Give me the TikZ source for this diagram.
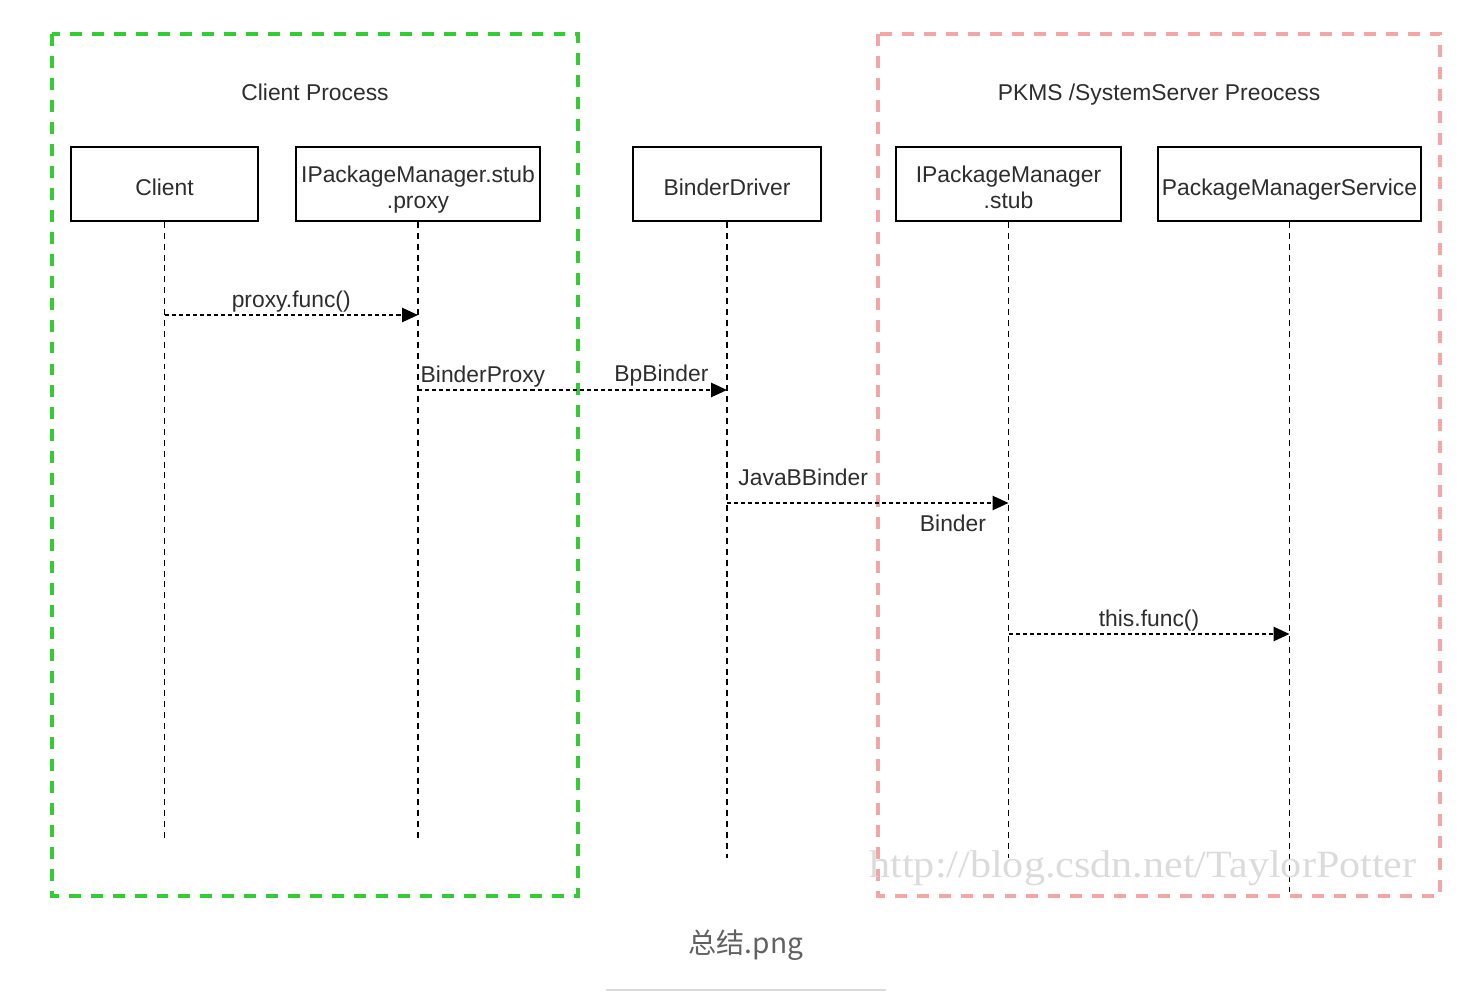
\documentclass[tikz,border=0pt]{standalone}
\usepackage{fontspec}
\setmainfont{Liberation Sans}
\newfontfamily\cjkfont{Noto Sans CJK SC}
\newfontfamily\markfont{Liberation Serif}
\usetikzlibrary{arrows.meta,shadows}

\definecolor{procgreen}{RGB}{51,204,51}
\definecolor{procpink}{RGB}{244,166,166}
\definecolor{labelgray}{RGB}{45,45,45}

\tikzset{
    actor/.style={draw=black, line width=1pt, fill=white, minimum height=14.8mm,
        inner sep=1pt, align=center, text=labelgray,
        font=\fontsize{13}{14.7}\selectfont, text height=12.8pt, text depth=0pt,
        drop shadow={shadow xshift=0.7pt, shadow yshift=-0.7pt, opacity=0.25}},
    twolines/.style={text height=30.3pt, text depth=2.7pt},
    lifeline/.style={line width=0.8pt, dash pattern=on 3.4pt off 2.8pt},
    msg/.style={line width=1.1pt, dash pattern=on 2.3pt off 1.7pt,
        -{Triangle[length=9pt,width=8pt]}},
    msglabel/.style={text=labelgray, font=\fontsize{13}{14.7}\selectfont,
        inner sep=2pt, text height=9.4pt, text depth=2.6pt},
    procbox/.style={line width=2pt, dash pattern=on 6.8pt off 5.7pt},
}

\begin{document}
\begin{tikzpicture}[x=0.2mm, y=-0.2mm]
    \useasboundingbox (0, 0) rectangle (1484, 1000);

    % process frames
    \draw [procbox, procgreen] (52, 34) rectangle (578, 896);
    \draw [procbox, procpink] (878, 34) rectangle (1440, 896);
    \node [msglabel] (clientproc) at (315, 95) {Client Process};
    \node [msglabel] (serverproc) at (1159, 95) {PKMS /SystemServer Preocess};

    % participants
    \node [actor, minimum width=37.4mm] (client) at (164.5, 184) {Client};
    \node [actor, twolines, minimum width=48.8mm] (proxy) at (418, 184)
        {IPackageManager.stub\\.proxy};
    \node [actor, minimum width=37.6mm] (driver) at (727, 184) {BinderDriver};
    \node [actor, twolines, minimum width=45mm] (stub) at (1008.5, 184)
        {IPackageManager\\.stub};
    \node [actor, minimum width=52.6mm] (pms) at (1289.5, 184)
        {PackageManagerService};

    % lifelines
    \coordinate (client-end) at (client |- 0,838);
    \coordinate (proxy-end) at (proxy |- 0,838);
    \coordinate (driver-end) at (driver |- 0,858);
    \coordinate (stub-end) at (stub |- 0,858);
    \coordinate (pms-end) at (pms |- 0,893);
    \foreach \who in {client, proxy, driver, stub, pms}
        \draw [lifeline] (\who) -- (\who-end);

    % calls
    \coordinate (call1-from) at (client |- 0,315);
    \coordinate (call1-to) at (proxy |- 0,315);
    \coordinate (call2-from) at (proxy |- 0,390);
    \coordinate (call2-to) at (driver |- 0,390);
    \coordinate (call3-from) at (driver |- 0,503);
    \coordinate (call3-to) at (stub |- 0,503);
    \coordinate (call4-from) at (stub |- 0,634);
    \coordinate (call4-to) at (pms |- 0,634);

    \draw [msg] (call1-from) -- node [msglabel, above, inner sep=1pt] {proxy.func()} (call1-to);
    \draw [msg] (call2-from) --
        node [msglabel, above right, pos=0, inner sep=1pt] {BinderProxy}
        node [msglabel, above left, pos=1, xshift=-3mm, inner sep=1.5pt] {BpBinder}
        (call2-to);
    \draw [msg] (call3-from) --
        node [msglabel, above right, pos=0, xshift=1.4mm, inner xsep=2pt, inner ysep=7pt]
            {JavaBBinder}
        node [msglabel, below left, pos=1, xshift=-2.2mm, inner sep=6pt] {Binder}
        (call3-to);
    \draw [msg] (call4-from) -- node [msglabel, above, inner sep=1pt] {this.func()} (call4-to);

    % watermark and caption
    \node [text=black!14, font=\markfont\fontsize{22}{24}\selectfont,
        xscale=1.09, transform shape] (mark) at (1143, 868)
        {http://blog.csdn.net/TaylorPotter};
    \node [text=black!62, font=\cjkfont\fontsize{16}{18}\selectfont]
        (caption) at (746, 945) {总结.png};
    \coordinate (rule-left) at (606, 990);
    \coordinate (rule-right) at (886, 990);
    \draw [black!15, line width=1.6pt] (rule-left) -- (rule-right);
\end{tikzpicture}
\end{document}
